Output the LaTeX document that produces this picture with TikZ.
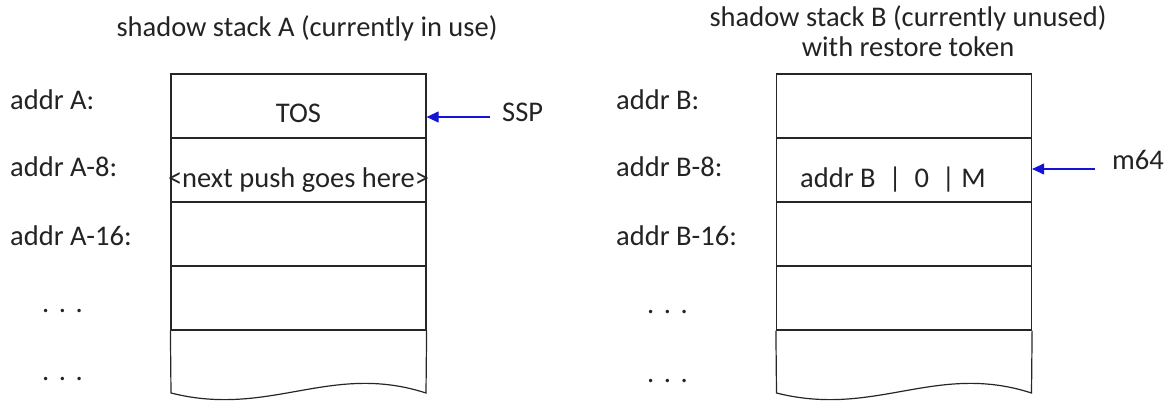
\documentclass[tikz,border=0pt]{standalone}
\usepackage{fontspec}
\setmainfont{Carlito}
\usetikzlibrary{arrows.meta}
\definecolor{arrowblue}{RGB}{20,20,215}
\definecolor{textgray}{RGB}{35,35,35}
\begin{document}
\begin{tikzpicture}[x=1pt,y=-1pt,
  every node/.style={font=\fontsize{28.5}{32}\selectfont,text=textgray,inner sep=0pt},
  cellbox/.style={draw=black!85,line width=1.2pt,minimum width=255pt,minimum height=64pt,rectangle},
  lbl/.style={anchor=base west},
  ctr/.style={anchor=base},
  arr/.style={draw=arrowblue,line width=1.1pt,-{Triangle[length=12pt,width=11pt]}}]
\useasboundingbox (0,0) rectangle (1174,403);
% titles
\node[ctr] (titleA) at (307,37) {shadow stack A (currently in use)};
\node[ctr] (titleB1) at (908,27) {shadow stack B (currently unused)};
\node[ctr] (titleB2) at (908,57) {with restore token};
% stack A
\node[cellbox] (a1) at (298.5,106) {};
\node[cellbox] (a2) at (298.5,170) {};
\node[cellbox] (a3) at (298.5,234) {};
\node[cellbox] (a4) at (298.5,298) {};
\draw[black!85,line width=1.2pt] (a4.south west) -- (171,393) .. controls (270,418) and (330,362) .. (426,393) -- (a4.south east);
\node[ctr] (tos) at (298.5,123) {TOS};
\node[ctr] (nxt) at (298.5,188) {<next push goes here>};
% stack B
\node[cellbox] (b1) at (904,106) {};
\node[cellbox] (b2) at (904,170) {};
\node[cellbox] (b3) at (904,234) {};
\node[cellbox] (b4) at (904,298) {};
\draw[black!85,line width=1.2pt] (b4.south west) -- (776.5,393) .. controls (875.5,418) and (935.5,362) .. (1031.5,393) -- (b4.south east);
\node[anchor=base west] (tok) at (800,188) {addr B~~|~~0~~|~M};
% labels A
\node[lbl] (la1) at (10,110) {addr A:};
\node[lbl] (la2) at (10,177) {addr A-8:};
\node[lbl] (la3) at (10,245) {addr A-16:};
\node[lbl] (la4) at (42,312) {.\,\,.\,\,.};
\node[lbl] (la5) at (42,380) {.\,\,.\,\,.};
% labels B
\node[lbl] (lb1) at (616,110) {addr B:};
\node[lbl] (lb2) at (616,177) {addr B-8:};
\node[lbl] (lb3) at (616,245) {addr B-16:};
\node[lbl] (lb4) at (647,313) {.\,\,.\,\,.};
\node[lbl] (lb5) at (647,382) {.\,\,.\,\,.};
% pointers
\node[lbl] (ssp) at (502,122) {SSP};
\node[lbl] (m64) at (1112,170) {m64};
\coordinate (sspT) at (490,117);
\coordinate (m64T) at (1095,169);
\draw[arr] (sspT) -- (a1.east |- sspT);
\draw[arr] (m64T) -- (b2.east |- m64T);
\end{tikzpicture}
\end{document}
